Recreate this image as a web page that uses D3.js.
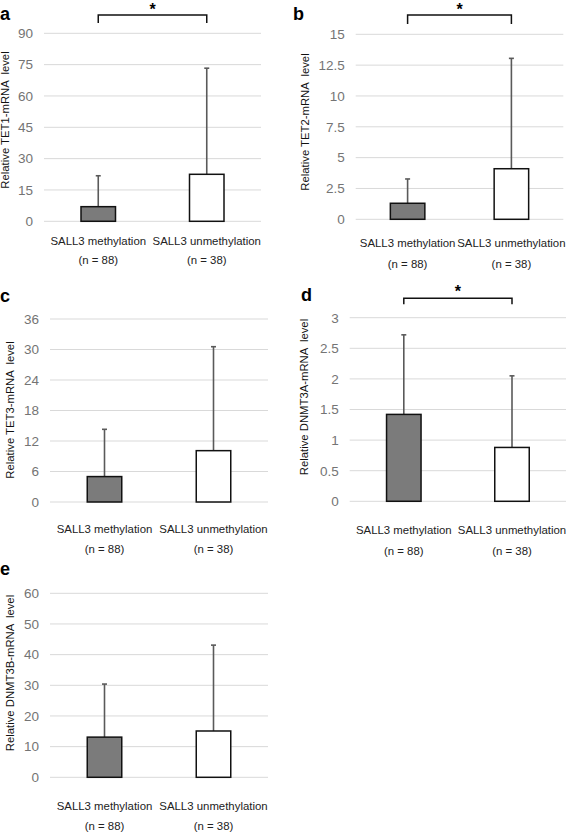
<!DOCTYPE html>
<html><head><meta charset="utf-8">
<script src="https://cdn.jsdelivr.net/npm/d3@7"></script>
<style>body{margin:0;background:#fff}svg{display:block}</style>
</head><body>
<script>
// ---- data ----
const categories = ["SALL3 methylation", "SALL3 unmethylation"];
const sampleSizes = ["(n = 88)", "(n = 38)"];

const tet1Mean = [7.0, 22.5];
const tet1SD = [14.8, 50.8];
const tet1Ticks = [0, 15, 30, 45, 60, 75, 90];

const tet2Mean = [1.3, 4.1];
const tet2SD = [1.97, 8.95];
const tet2Ticks = [0, 2.5, 5, 7.5, 10, 12.5, 15];

const tet3Mean = [5.0, 10.1];
const tet3SD = [9.3, 20.45];
const tet3Ticks = [0, 6, 12, 18, 24, 30, 36];

const dnmt3aMean = [1.42, 0.88];
const dnmt3aSD = [1.30, 1.17];
const dnmt3aTicks = [0, 0.5, 1, 1.5, 2, 2.5, 3];

const dnmt3bMean = [13.1, 15.1];
const dnmt3bSD = [17.3, 28.0];
const dnmt3bTicks = [0, 10, 20, 30, 40, 50, 60];

const panelLetters = ["a", "b", "c", "d", "e"];
const yTitles = ["Relative TET1-mRNA  level", "Relative TET2-mRNA  level", "Relative TET3-mRNA  level",
                 "Relative DNMT3A-mRNA  level", "Relative DNMT3B-mRNA  level"];
const significant = [true, true, false, true, false];
const barFills = ["#7b7b7b", "#ffffff"];

// ---- layout (pixels) ----
const panels = [
  {mean: tet1Mean, sd: tet1SD, ticks: tet1Ticks, x0: 44, x1: 261, y0: 221.3, y1: 33.3, titleX: 5, titleY: 120, letterX: 0, letterY: 20, catY: 244.5, nY: 264, brY: 15, brH: 8, starY: 15},
  {mean: tet2Mean, sd: tet2SD, ticks: tet2Ticks, x0: 355.7, x1: 563.3, y0: 219.3, y1: 34.3, titleX: 305, titleY: 122, letterX: 293, letterY: 20, catY: 247, nY: 268, brY: 15, brH: 9, starY: 15},
  {mean: tet3Mean, sd: tet3SD, ticks: tet3Ticks, x0: 50, x1: 268, y0: 502, y1: 319, titleX: 10, titleY: 410, letterX: 0, letterY: 302, catY: 533, nY: 553},
  {mean: dnmt3aMean, sd: dnmt3aSD, ticks: dnmt3aTicks, x0: 349.7, x1: 566.1, y0: 501.3, y1: 317.7, titleX: 304, titleY: 397, letterX: 301, letterY: 301, catY: 534, nY: 554.5, brY: 298.3, brH: 6, starY: 297},
  {mean: dnmt3bMean, sd: dnmt3bSD, ticks: dnmt3bTicks, x0: 50, x1: 268, y0: 777.3, y1: 593.3, titleX: 10, titleY: 673, letterX: 0, letterY: 575, catY: 810, nY: 830}
];

const svg = d3.select("body").append("svg").attr("width", 566).attr("height", 832)
  .style("font-family", "'Liberation Sans', Arial, Helvetica, sans-serif");

panels.forEach((p, i) => {
  const g = svg.append("g");
  const x = d3.scaleBand().domain(categories).range([p.x0, p.x1]);
  const y = d3.scaleLinear().domain([0, p.ticks[p.ticks.length - 1]]).range([p.y0, p.y1]);
  const bw = 34.5;

  // tick labels via axis
  const axis = d3.axisLeft(y).tickValues(p.ticks).tickSize(0).tickPadding(0)
    .tickFormat(d => String(d));
  const ag = g.append("g").attr("transform", `translate(${p.x0 - 11},0)`).call(axis);
  ag.select(".domain").remove();
  ag.selectAll("text").attr("fill", "#747474").style("font-size", "13.5px")
    .style("font-family", "'Liberation Sans', Arial, sans-serif");

  // gridlines
  g.selectAll("line.grid").data(p.ticks).enter().append("line")
    .attr("x1", p.x0).attr("x2", p.x1)
    .attr("y1", d => y(d)).attr("y2", d => y(d))
    .attr("stroke", "#d9d9d9").attr("stroke-width", 1);

  // error bars
  categories.forEach((c, k) => {
    const cx = x(c) + x.bandwidth() / 2;
    g.append("line").attr("x1", cx).attr("x2", cx)
      .attr("y1", y(p.mean[k])).attr("y2", y(p.mean[k] + p.sd[k]))
      .attr("stroke", "#5a5a5a").attr("stroke-width", 1.6);
    g.append("line").attr("x1", cx - 2.5).attr("x2", cx + 2.5)
      .attr("y1", y(p.mean[k] + p.sd[k])).attr("y2", y(p.mean[k] + p.sd[k]))
      .attr("stroke", "#5a5a5a").attr("stroke-width", 1.6);
  });

  // bars
  g.selectAll("rect.bar").data(categories).enter().append("rect")
    .attr("x", c => x(c) + x.bandwidth() / 2 - bw / 2)
    .attr("width", bw)
    .attr("y", (c, k) => y(p.mean[k]))
    .attr("height", (c, k) => y(0) - y(p.mean[k]))
    .attr("fill", (c, k) => barFills[k])
    .attr("stroke", "#111").attr("stroke-width", 1.5);

  // category labels
  categories.forEach((c, k) => {
    const cx = x(c) + x.bandwidth() / 2;
    g.append("text").attr("x", cx).attr("y", p.catY).attr("text-anchor", "middle")
      .attr("fill", "#222").style("font-size", "11.4px").text(c);
    g.append("text").attr("x", cx).attr("y", p.nY).attr("text-anchor", "middle")
      .attr("fill", "#222").style("font-size", "11.4px").text(sampleSizes[k]);
  });

  // y title
  g.append("text").attr("transform", `translate(${p.titleX},${p.titleY}) rotate(-90)`)
    .attr("text-anchor", "middle").attr("dominant-baseline", "central")
    .attr("fill", "#111").style("font-size", "11.3px").style("white-space", "pre")
    .attr("xml:space", "preserve").text(yTitles[i]);

  // panel letter
  g.append("text").attr("x", p.letterX).attr("y", p.letterY)
    .attr("fill", "#000").style("font-size", "18px").style("font-weight", "bold")
    .style("font-family", "'Liberation Sans', Arial, sans-serif").text(panelLetters[i]);

  // significance bracket
  if (significant[i]) {
    const xa = x(categories[0]) + x.bandwidth() / 2;
    const xb = x(categories[1]) + x.bandwidth() / 2;
    g.append("path")
      .attr("d", `M${xa},${p.brY + p.brH}V${p.brY}H${xb}V${p.brY + p.brH}`)
      .attr("fill", "none").attr("stroke", "#111").attr("stroke-width", 1.5);
    g.append("text").attr("x", (xa + xb) / 2).attr("y", p.starY)
      .attr("text-anchor", "middle").attr("fill", "#000")
      .style("font-size", "16px").style("font-weight", "bold").text("*");
  }
});
</script>
</body></html>
